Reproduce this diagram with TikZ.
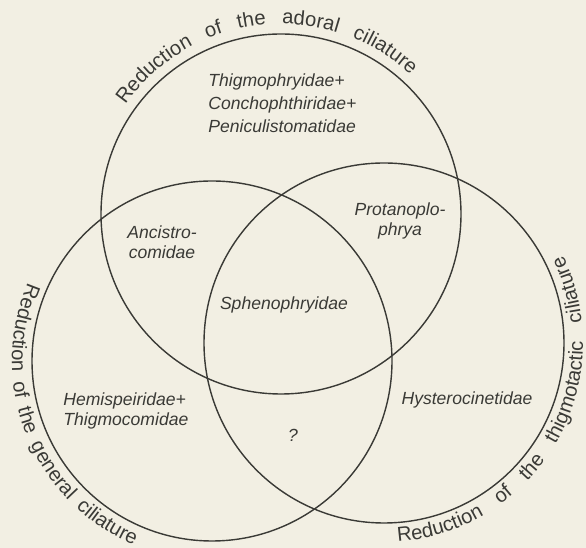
\documentclass[tikz,border=0pt]{standalone}
\usepackage{fontspec}
\setmainfont{Liberation Sans}
\usetikzlibrary{decorations.text}
\definecolor{paper}{HTML}{F2EFE3}
\definecolor{ink}{HTML}{3A3A36}
\newcommand{\arcfont}{\fontsize{11.5}{13}\selectfont}
\tikzset{
  ring/.style={draw=ink, line width=0.8pt},
  taxon/.style={
    font=\itshape\fontsize{10}{11.5}\selectfont,
    text=ink, inner sep=0pt, align=center,
  },
  arclabel/.style={
    decorate,
    decoration={text along path, text color=ink,
      text align={fit to path stretching spaces}},
  },
}

\begin{document}
\begin{tikzpicture}[x=0.02cm, y=0.02cm]

  \fill[paper] (0,0) rectangle (586,548);
  \useasboundingbox (0,0) rectangle (586,548);

  % circle centres
  \coordinate (adoral) at (281,334);
  \coordinate (general) at (212,187);
  \coordinate (thigmo) at (384,205);

  \draw[ring] (adoral) circle[radius=180];
  \draw[ring] (general) circle[radius=180];
  \draw[ring] (thigmo) circle[radius=180];

  % labels along the circles
  \path[arclabel, decoration={text={|\arcfont|Reduction of the adoral ciliature}}]
    (adoral) ++(145:190) arc[start angle=145, end angle=47, radius=190];
  \path[arclabel, decoration={text={|\arcfont|Reduction of the general ciliature}}]
    (general) ++(157:200) arc[start angle=157, end angle=247, radius=200];
  \path[arclabel, decoration={text={|\arcfont|Reduction of the thigmotactic ciliature}}]
    (thigmo) ++(-86:199) arc[start angle=-86, end angle=26, radius=199];

  % taxa in the fields
  \node[taxon, align=left, anchor=west, font=\itshape\fontsize{10}{13}\selectfont]
    (thigmophr) at (208,445) {Thigmophryidae+\\Conchophthiridae+\\Peniculistomatidae};
  \node[taxon] (ancistro) at (162,306) {Ancistro-\\comidae};
  \node[taxon] (protano) at (400,327) {Protanoplo-\\phrya};
  \node[taxon] (spheno) at (284,243) {Sphenophryidae};
  \node[taxon, align=left, anchor=west] (hemisp) at (63,137) {Hemispeiridae+\\Thigmocomidae};
  \node[taxon] (hystero) at (467,148) {Hysterocinetidae};
  \node[taxon] (unknown) at (293,113) {?};

\end{tikzpicture}
\end{document}
